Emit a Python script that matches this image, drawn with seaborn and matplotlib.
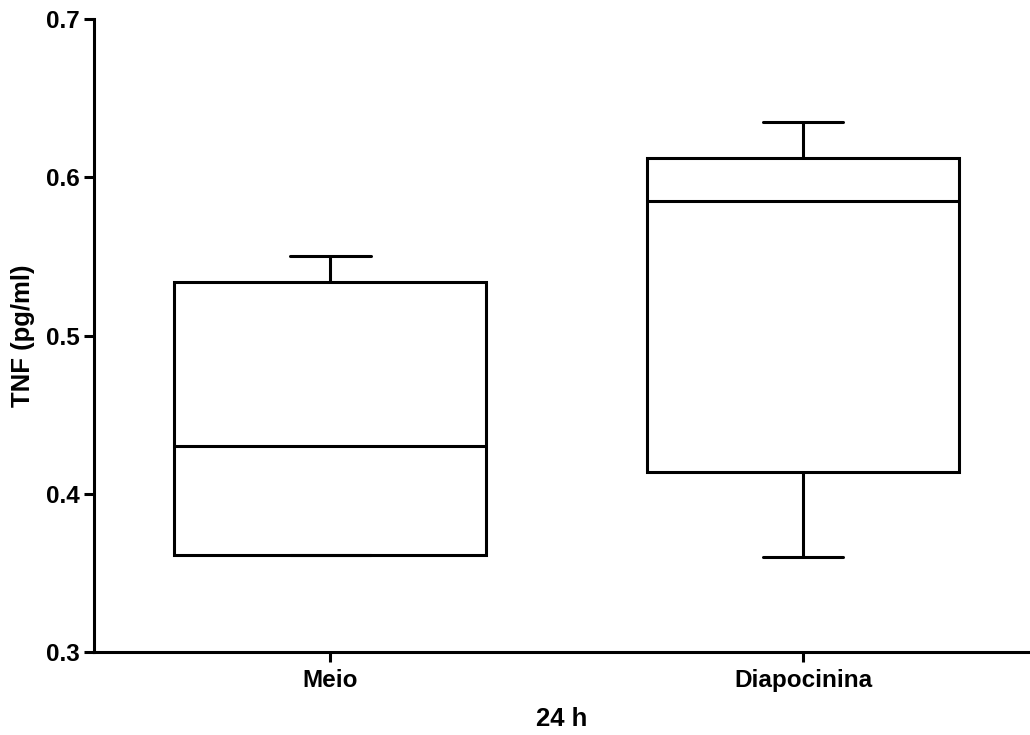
import numpy as np
import pandas as pd
import seaborn as sns
import matplotlib.pyplot as plt

# five-number summaries (min, q1, median, q3, max)
groups = ['Meio', 'Diapocinina']
meio = [0.361, 0.361, 0.430, 0.534, 0.550]
diapocinina = [0.360, 0.414, 0.585, 0.612, 0.635]
y_ticks = [0.3, 0.4, 0.5, 0.6, 0.7]

df = pd.DataFrame({
    'grupo': [groups[0]] * len(meio) + [groups[1]] * len(diapocinina),
    'tnf': meio + diapocinina,
})

sns.set_style('ticks')
plt.rcParams['font.family'] = ['Liberation Sans', 'DejaVu Sans']
plt.rcParams['font.weight'] = 'bold'
plt.rcParams['text.color'] = 'black'
plt.rcParams['axes.labelcolor'] = 'black'

fig = plt.figure(figsize=(10.3, 7.35), dpi=100)
ax = fig.add_axes([0.0913, 0.1129, 0.9087, 0.8611])

lw = 2.2
sns.boxplot(data=df, x='grupo', y='tnf', order=groups, whis=(0, 100),
            width=0.66, color='white', linewidth=lw, linecolor='black',
            capwidths=0.17, showfliers=False, ax=ax)

ax.set_xlim(-0.5, 1.48)
ax.set_ylim(0.3, 0.7)
ax.set_yticks(y_ticks)
ax.set_yticklabels([f'{t:.1f}' for t in y_ticks])
sns.despine(ax=ax)
for s in ['left', 'bottom']:
    ax.spines[s].set_linewidth(lw)
    ax.spines[s].set_color('black')
ax.tick_params(axis='both', width=lw, length=7, labelsize=17.5, colors='black')
ax.tick_params(axis='x', pad=5)
ax.set_xlabel('24 h', fontsize=18.5, fontweight='bold', labelpad=11)
ax.set_ylabel('TNF (pg/ml)', fontsize=18.5, fontweight='bold', labelpad=8)
for lab in ax.get_xticklabels() + ax.get_yticklabels():
    lab.set_fontweight('bold')

fig.savefig('out.png', dpi=100)
